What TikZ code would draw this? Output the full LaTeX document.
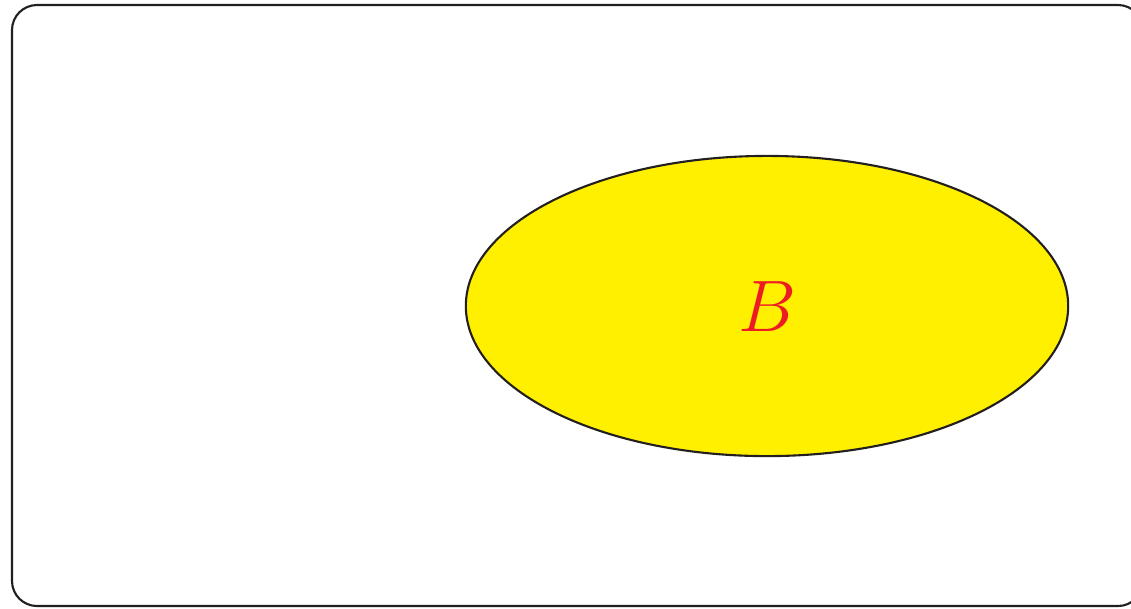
\documentclass[tikz,border=0pt]{standalone}
\definecolor{setyellow}{RGB}{255,240,0}
\definecolor{labelred}{RGB}{237,28,36}
\definecolor{linegray}{RGB}{35,31,32}
\begin{document}
\begin{tikzpicture}[x=0.01cm,y=-0.01cm,
  frame/.style={draw=linegray,line width=0.6pt,rounded corners=0.25cm},
  setshape/.style={draw=linegray,line width=0.6pt,fill=setyellow},
  setlabel/.style={text=labelred,font=\fontsize{21}{25}\selectfont}]
\useasboundingbox (0,0) rectangle (1131,608);
\draw[frame] (12,5) rectangle (1143,606);
\draw[setshape] (767,306) ellipse [x radius=3.01cm, y radius=1.5cm];
\node[setlabel] (b) at (767,307) {$B$};
\end{tikzpicture}
\end{document}
